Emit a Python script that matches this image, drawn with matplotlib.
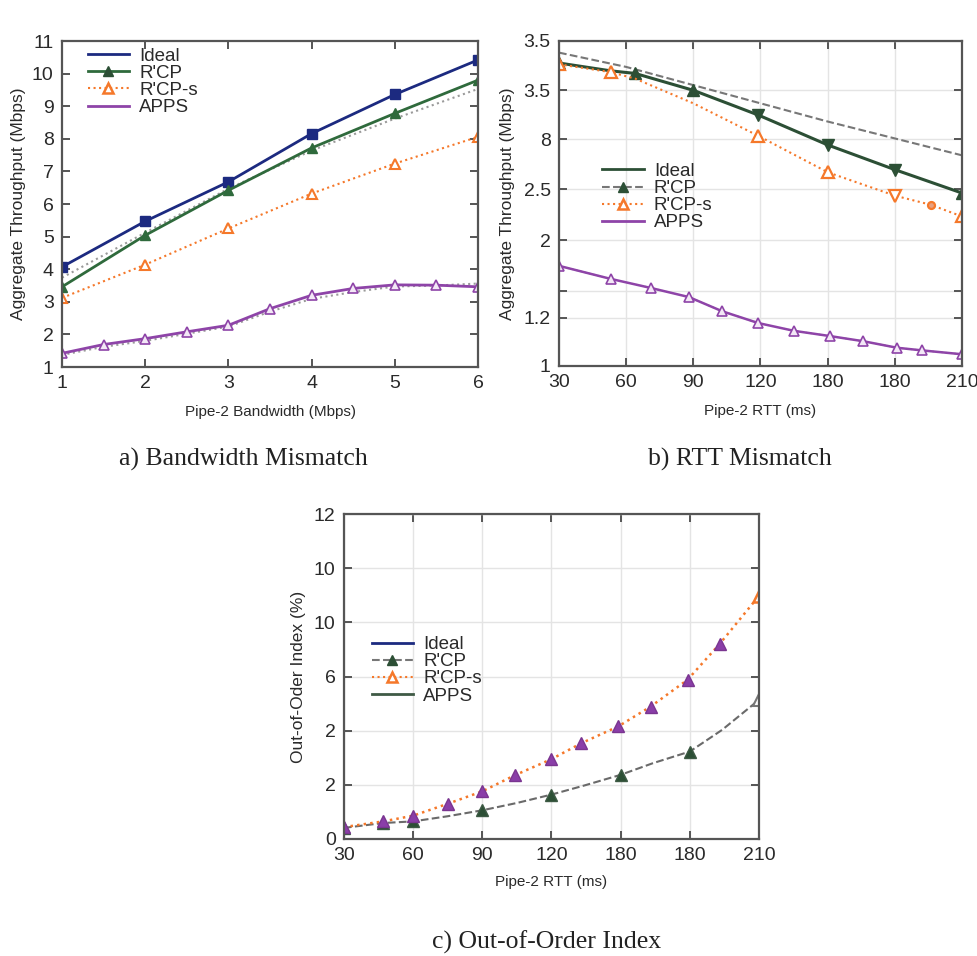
"""
Three-panel throughput / out-of-order comparison (Ideal, R'CP, R'CP-s, APPS).
"""
import matplotlib
matplotlib.use('Agg')
import matplotlib.pyplot as plt
from matplotlib.lines import Line2D

plt.rcParams['font.family'] = ['Liberation Sans', 'DejaVu Sans']

NAVY = '#1c2a80'
GREEN = '#2f6a3c'
DKGREEN = '#2c4f35'
ORANGE = '#f5782a'
PURPLE = '#8e44a8'
GRAY = '#9a9a9a'
SPINE = '#555555'

# ---- (a) bandwidth mismatch ----
bw_x = [1, 2, 3, 4, 5, 6]
bw_ideal = [4.07, 5.47, 6.68, 8.16, 9.36, 10.42]
bw_rcp = [3.46, 5.04, 6.42, 7.72, 8.78, 9.80]
bw_rcp_ref = [3.74, 5.12, 6.47, 7.64, 8.62, 9.53]
bw_rcps = [3.12, 4.14, 5.25, 6.32, 7.24, 8.06]
bw_apps_x = [1, 1.5, 2, 2.5, 3, 3.5, 4, 4.5, 5, 5.5, 6]
bw_apps = [1.42, 1.69, 1.87, 2.08, 2.28, 2.79, 3.20, 3.41, 3.52, 3.51, 3.46]
bw_apps_ref = [1.37, 1.62, 1.80, 2.02, 2.24, 2.70, 3.09, 3.30, 3.47, 3.50, 3.56]
bw_yticks = [1, 2, 3, 4, 5, 6, 7, 8, 9, 10, 11]

# ---- (b) RTT mismatch (y positions on a linear 1..3.5 scale) ----
rtt_ticks = [30, 60, 90, 120, 150, 180, 210]
rtt_ticklabels = ['30', '60', '90', '120', '180', '180', '210']
rb_yticks = [1.0, 1.371, 1.579, 1.968, 2.360, 2.742, 3.121, 3.5]
rb_yticklabels = ['1', '1.2', '', '2', '2.5', '8', '3.5', '3.5']
rb_ideal_x = [30, 53, 64, 90, 119, 150, 180, 210]
rb_ideal = [3.33, 3.27, 3.25, 3.12, 2.93, 2.70, 2.51, 2.33]
rb_ideal_marks = ['^', None, '^', '^', 'v', 'v', 'v', '^']
rb_rcp_x = [30, 60, 90, 120, 150, 180, 210]
rb_rcp = [3.41, 3.30, 3.16, 3.02, 2.88, 2.75, 2.62]
rb_rcps_x = [30, 53, 64, 90, 119, 150, 180, 196, 210]
rb_rcps = [3.32, 3.26, 3.21, 3.02, 2.77, 2.49, 2.31, 2.24, 2.15]
rb_rcps_marks = ['^', '^', None, None, '^', '^', 'v', 'o', '^']
rb_apps_x = [30, 53, 71, 88, 103, 119, 135, 151, 166, 181, 192, 210]
rb_apps = [1.77, 1.67, 1.60, 1.53, 1.42, 1.33, 1.27, 1.23, 1.19, 1.14, 1.12, 1.09]

# ---- (c) out-of-order index ----
rc_yticks = [0, 2, 4, 6, 8, 10, 12]
rc_yticklabels = ['0', '2', '2', '6', '10', '10', '12']
rc_rcps_x = [30, 47, 60, 75, 90, 104, 120, 133, 149, 163, 179, 193, 210]
rc_rcps = [0.44, 0.65, 0.86, 1.30, 1.76, 2.35, 2.95, 3.54, 4.16, 4.89, 5.88, 7.21, 8.98]
rc_rcp_x = [30, 47, 60, 75, 90, 105, 120, 134, 150, 164, 180, 194, 210]
rc_rcp = [0.41, 0.59, 0.65, 0.84, 1.06, 1.33, 1.64, 1.97, 2.37, 2.80, 3.23, 4.03, 5.14]
rc_rcp_marked = [30, 47, 60, 90, 120, 150, 180]

TXT = '#2a2a2a'


def style_axes(ax, grid):
    for s in ax.spines.values():
        s.set_color(SPINE)
        s.set_linewidth(1.6)
    ax.tick_params(direction='in', length=6, width=1.4, color=SPINE,
                   top=True, right=True, labelsize=14, pad=6, labelcolor=TXT)
    if grid:
        ax.grid(True, color='#e4e4e4', linewidth=1.0)
        ax.set_axisbelow(True)


def legend_handles(ideal_color, rcp_ls, rcp_color, apps_color):
    return [
        Line2D([], [], color=ideal_color, lw=2, label='Ideal'),
        Line2D([], [], color=rcp_color, lw=2 if rcp_ls == '-' else 1.5, ls=rcp_ls,
               marker='^', ms=7, mfc=DKGREEN, mec=DKGREEN, label="R'CP"),
        Line2D([], [], color=ORANGE, lw=1.5, ls=':', marker='^', ms=7,
               mfc='white', mec=ORANGE, mew=1.8, label="R'CP-s"),
        Line2D([], [], color=apps_color, lw=2, label='APPS'),
    ]


LEG = dict(loc='upper left', frameon=False, fontsize=13.5, handlelength=2.2,
           labelspacing=0.0, handletextpad=0.55, borderpad=0.2, labelcolor=TXT)

fig = plt.figure(figsize=(9.78, 9.56), dpi=100)

# (a)
ax = fig.add_axes([0.0634, 0.6161, 0.4254, 0.3410])
ax.plot(bw_x, bw_rcp_ref, color=GRAY, lw=1.5, ls=':')
ax.plot(bw_apps_x, bw_apps_ref, color=GRAY, lw=1.5, ls=':')
ax.plot(bw_x, bw_ideal, color=NAVY, lw=2, marker='s', ms=6.5)
ax.plot(bw_x, bw_rcp, color=GREEN, lw=2, marker='^', ms=7)
ax.plot(bw_x, bw_rcps, color=ORANGE, lw=1.5, ls=':', marker='^', ms=7,
        mfc='white', mec=ORANGE, mew=1.5)
ax.plot(bw_apps_x, bw_apps, color=PURPLE, lw=2, marker='^', ms=7,
        mfc='#f3e8f6', mec=PURPLE, mew=1.2)
ax.set_xlim(1, 6)
ax.set_ylim(1, 11)
ax.set_xticks(bw_x)
ax.set_yticks(bw_yticks)
style_axes(ax, grid=False)
ax.set_xlabel('Pipe-2 Bandwidth (Mbps)', fontsize=11, labelpad=9, color=TXT)
ax.set_ylabel('Aggregate Throughput (Mbps)', fontsize=12.5, labelpad=4, color=TXT)
ax.legend(handles=legend_handles(NAVY, '-', GREEN, PURPLE),
          bbox_to_anchor=(0.03, 1.02), **LEG)

# (b)
ax = fig.add_axes([0.5716, 0.6172, 0.4120, 0.3400])
ax.plot(rb_rcp_x, rb_rcp, color='#777777', lw=1.5, ls='--')
ax.plot(rb_ideal_x, rb_ideal, color=DKGREEN, lw=2.2)
for xv, yv, m in zip(rb_ideal_x, rb_ideal, rb_ideal_marks):
    if m:
        ax.plot(xv, yv, marker=m, ms=8, color=DKGREEN)
ax.plot(rb_rcps_x, rb_rcps, color=ORANGE, lw=1.5, ls=':')
for xv, yv, m in zip(rb_rcps_x, rb_rcps, rb_rcps_marks):
    if m:
        ax.plot(xv, yv, marker=m, ms=8 if m != 'o' else 5, mfc='white' if m != 'o' else '#e8a080',
                mec=ORANGE, mew=1.6)
ax.plot(rb_apps_x, rb_apps, color=GRAY, lw=1.2, ls=':')
ax.plot(rb_apps_x, rb_apps, color=PURPLE, lw=1.8, marker='^', ms=7,
        mfc='#f3e8f6', mec=PURPLE, mew=1.2)
ax.set_xlim(30, 210)
ax.set_ylim(1.0, 3.5)
ax.set_xticks(rtt_ticks)
ax.set_xticklabels(rtt_ticklabels)
ax.set_yticks(rb_yticks)
ax.set_yticklabels(rb_yticklabels)
style_axes(ax, grid=True)
ax.set_xlabel('Pipe-2 RTT (ms)', fontsize=11, labelpad=9, color=TXT)
ax.set_ylabel('Aggregate Throughput (Mbps)', fontsize=12.5, labelpad=6, color=TXT)
ax.legend(handles=legend_handles(DKGREEN, '--', '#777777', PURPLE),
          bbox_to_anchor=(0.075, 0.665), **LEG)

# (c)
ax = fig.add_axes([0.3517, 0.1224, 0.4244, 0.3399])
ax.plot(rc_rcp_x, rc_rcp, color='#6a6a6a', lw=1.5, ls='--')
for xv, yv in zip(rc_rcp_x, rc_rcp):
    if xv in rc_rcp_marked:
        ax.plot(xv, yv, marker='^', ms=8, color=DKGREEN, mec='#3d5a44')
ax.plot(rc_rcp_x[-1], rc_rcp[-1], marker='^', ms=8, mfc='white', mec='#777777', mew=1.5)
ax.plot(rc_rcps_x, rc_rcps, color=ORANGE, lw=1.8, ls=':')
ax.plot(rc_rcps_x[:-1], rc_rcps[:-1], ls='none', marker='^', ms=9,
        mfc='#8a3ea8', mec='#7a3590')
ax.plot(rc_rcps_x[-1], rc_rcps[-1], marker='^', ms=9, mfc='white', mec=ORANGE, mew=1.8)
ax.set_xlim(30, 210)
ax.set_ylim(0, 12)
ax.set_xticks(rtt_ticks)
ax.set_xticklabels(rtt_ticklabels)
ax.set_yticks(rc_yticks)
ax.set_yticklabels(rc_yticklabels)
style_axes(ax, grid=True)
ax.set_xlabel('Pipe-2 RTT (ms)', fontsize=11, labelpad=8, color=TXT)
ax.set_ylabel('Out-of-Oder Index (%)', fontsize=12.5, labelpad=6, color=TXT)
ax.legend(handles=legend_handles(NAVY, '--', '#777777', '#3f5a45'),
          bbox_to_anchor=(0.035, 0.665), **LEG)

# captions
cap = dict(family=['Liberation Serif', 'DejaVu Serif'], fontsize=18.5, color='#222222',
           ha='center', va='center')
fig.text(243 / 978, 1 - 459 / 956, 'a) Bandwidth Mismatch', **cap)
fig.text(740 / 978, 1 - 459 / 956, 'b) RTT Mismatch', **cap)
fig.text(547 / 978, 1 - 942 / 956, 'c) Out-of-Order Index', **cap)

fig.savefig('out.png', dpi=100, facecolor='white')
plt.close(fig)
